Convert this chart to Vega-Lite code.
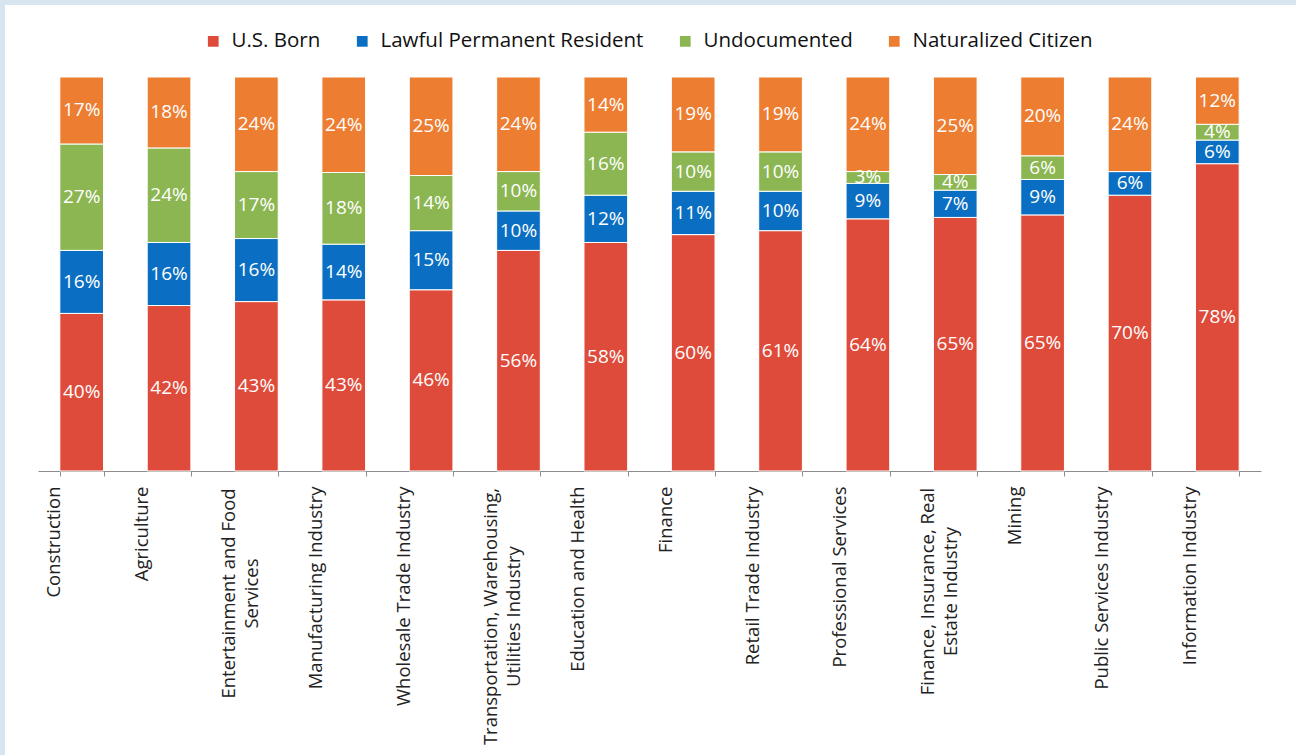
{
  "$schema": "https://vega.github.io/schema/vega-lite/v6.json",
  "width": 1291,
  "height": 750,
  "autosize": {"type": "none"},
  "padding": {"left": 5, "top": 5, "right": 0, "bottom": 0},
  "background": "#d6e5f0",
  "config": {
    "view": {"fill": "white", "stroke": null},
    "font": "Open Sans"
  },
  "data": {
    "values": [
      {"industry": "Construction", "group": "U.S. Born", "k": 1, "v": 0.40},
      {"industry": "Construction", "group": "Lawful Permanent Resident", "k": 2, "v": 0.16},
      {"industry": "Construction", "group": "Undocumented", "k": 3, "v": 0.27},
      {"industry": "Construction", "group": "Naturalized Citizen", "k": 4, "v": 0.17},
      {"industry": "Agriculture", "group": "U.S. Born", "k": 1, "v": 0.42},
      {"industry": "Agriculture", "group": "Lawful Permanent Resident", "k": 2, "v": 0.16},
      {"industry": "Agriculture", "group": "Undocumented", "k": 3, "v": 0.24},
      {"industry": "Agriculture", "group": "Naturalized Citizen", "k": 4, "v": 0.18},
      {"industry": "Entertainment and Food Services", "group": "U.S. Born", "k": 1, "v": 0.43},
      {"industry": "Entertainment and Food Services", "group": "Lawful Permanent Resident", "k": 2, "v": 0.16},
      {"industry": "Entertainment and Food Services", "group": "Undocumented", "k": 3, "v": 0.17},
      {"industry": "Entertainment and Food Services", "group": "Naturalized Citizen", "k": 4, "v": 0.24},
      {"industry": "Manufacturing Industry", "group": "U.S. Born", "k": 1, "v": 0.43},
      {"industry": "Manufacturing Industry", "group": "Lawful Permanent Resident", "k": 2, "v": 0.14},
      {"industry": "Manufacturing Industry", "group": "Undocumented", "k": 3, "v": 0.18},
      {"industry": "Manufacturing Industry", "group": "Naturalized Citizen", "k": 4, "v": 0.24},
      {"industry": "Wholesale Trade Industry", "group": "U.S. Born", "k": 1, "v": 0.46},
      {"industry": "Wholesale Trade Industry", "group": "Lawful Permanent Resident", "k": 2, "v": 0.15},
      {"industry": "Wholesale Trade Industry", "group": "Undocumented", "k": 3, "v": 0.14},
      {"industry": "Wholesale Trade Industry", "group": "Naturalized Citizen", "k": 4, "v": 0.25},
      {"industry": "Transportation, Warehousing, Utilities Industry", "group": "U.S. Born", "k": 1, "v": 0.56},
      {"industry": "Transportation, Warehousing, Utilities Industry", "group": "Lawful Permanent Resident", "k": 2, "v": 0.10},
      {"industry": "Transportation, Warehousing, Utilities Industry", "group": "Undocumented", "k": 3, "v": 0.10},
      {"industry": "Transportation, Warehousing, Utilities Industry", "group": "Naturalized Citizen", "k": 4, "v": 0.24},
      {"industry": "Education and Health", "group": "U.S. Born", "k": 1, "v": 0.58},
      {"industry": "Education and Health", "group": "Lawful Permanent Resident", "k": 2, "v": 0.12},
      {"industry": "Education and Health", "group": "Undocumented", "k": 3, "v": 0.16},
      {"industry": "Education and Health", "group": "Naturalized Citizen", "k": 4, "v": 0.14},
      {"industry": "Finance", "group": "U.S. Born", "k": 1, "v": 0.60},
      {"industry": "Finance", "group": "Lawful Permanent Resident", "k": 2, "v": 0.11},
      {"industry": "Finance", "group": "Undocumented", "k": 3, "v": 0.10},
      {"industry": "Finance", "group": "Naturalized Citizen", "k": 4, "v": 0.19},
      {"industry": "Retail Trade Industry", "group": "U.S. Born", "k": 1, "v": 0.61},
      {"industry": "Retail Trade Industry", "group": "Lawful Permanent Resident", "k": 2, "v": 0.10},
      {"industry": "Retail Trade Industry", "group": "Undocumented", "k": 3, "v": 0.10},
      {"industry": "Retail Trade Industry", "group": "Naturalized Citizen", "k": 4, "v": 0.19},
      {"industry": "Professional Services", "group": "U.S. Born", "k": 1, "v": 0.64},
      {"industry": "Professional Services", "group": "Lawful Permanent Resident", "k": 2, "v": 0.09},
      {"industry": "Professional Services", "group": "Undocumented", "k": 3, "v": 0.03},
      {"industry": "Professional Services", "group": "Naturalized Citizen", "k": 4, "v": 0.24},
      {"industry": "Finance, Insurance, Real Estate Industry", "group": "U.S. Born", "k": 1, "v": 0.65},
      {"industry": "Finance, Insurance, Real Estate Industry", "group": "Lawful Permanent Resident", "k": 2, "v": 0.07},
      {"industry": "Finance, Insurance, Real Estate Industry", "group": "Undocumented", "k": 3, "v": 0.04},
      {"industry": "Finance, Insurance, Real Estate Industry", "group": "Naturalized Citizen", "k": 4, "v": 0.25},
      {"industry": "Mining", "group": "U.S. Born", "k": 1, "v": 0.65},
      {"industry": "Mining", "group": "Lawful Permanent Resident", "k": 2, "v": 0.09},
      {"industry": "Mining", "group": "Undocumented", "k": 3, "v": 0.06},
      {"industry": "Mining", "group": "Naturalized Citizen", "k": 4, "v": 0.20},
      {"industry": "Public Services Industry", "group": "U.S. Born", "k": 1, "v": 0.70},
      {"industry": "Public Services Industry", "group": "Lawful Permanent Resident", "k": 2, "v": 0.06},
      {"industry": "Public Services Industry", "group": "Undocumented", "k": 3, "v": 0.0},
      {"industry": "Public Services Industry", "group": "Naturalized Citizen", "k": 4, "v": 0.24},
      {"industry": "Information Industry", "group": "U.S. Born", "k": 1, "v": 0.78},
      {"industry": "Information Industry", "group": "Lawful Permanent Resident", "k": 2, "v": 0.06},
      {"industry": "Information Industry", "group": "Undocumented", "k": 3, "v": 0.04},
      {"industry": "Information Industry", "group": "Naturalized Citizen", "k": 4, "v": 0.12}
    ]
  },
  "encoding": {
    "x": {
      "field": "industry",
      "type": "nominal",
      "sort": null,
      "scale": {"range": [33, 1256], "paddingInner": 0.5, "paddingOuter": 0.25},
      "axis": {
        "title": null,
        "offset": -284,
        "tickBand": "extent",
        "tickSize": 5,
        "tickColor": "#8c8c8c",
        "domainColor": "#8c8c8c",
        "labelAngle": -90,
        "labelAlign": {
          "condition": {"test": "indexof(['Entertainment and Food Services','Transportation, Warehousing, Utilities Industry','Finance, Insurance, Real Estate Industry'], datum.value) >= 0", "value": "center"},
          "value": "right"
        },
        "labelPadding": {
          "condition": [
            {"test": "datum.value == 'Entertainment and Food Services'", "value": 117},
            {"test": "datum.value == 'Transportation, Warehousing, Utilities Industry'", "value": 140},
            {"test": "datum.value == 'Finance, Insurance, Real Estate Industry'", "value": 115}
          ],
          "value": 10
        },
        "labelBaseline": "top",
        "labelOffset": -37,
        "labelFontSize": 18.5,
        "labelLineHeight": 23,
        "labelColor": "#222222",
        "labelLimit": 500,
        "labelOverlap": false,
        "labelExpr": "datum.label == 'Entertainment and Food Services' ? ['Entertainment and Food', 'Services'] : datum.label == 'Transportation, Warehousing, Utilities Industry' ? ['Transportation, Warehousing,', 'Utilities Industry'] : datum.label == 'Finance, Insurance, Real Estate Industry' ? ['Finance, Insurance, Real', 'Estate Industry'] : datum.label"
      }
    },
    "y": {
      "field": "v",
      "type": "quantitative",
      "stack": "normalize",
      "scale": {"range": [466, 72]},
      "axis": null
    },
    "order": {"field": "k", "type": "quantitative"}
  },
  "layer": [
    {
      "mark": {"type": "bar", "stroke": "white", "strokeWidth": 1},
      "encoding": {
        "color": {
          "field": "group",
          "type": "nominal",
          "scale": {
            "domain": ["U.S. Born", "Lawful Permanent Resident", "Undocumented", "Naturalized Citizen"],
            "range": ["#df4b3a", "#0a6fc2", "#8bb652", "#ed7d31"]
          },
          "legend": {
            "title": null,
            "orient": "none",
            "direction": "horizontal",
            "legendX": 198,
            "legendY": 26,
            "symbolType": "square",
            "symbolSize": 115,
            "symbolStrokeWidth": 0,
            "labelFontSize": 20.5,
            "labelColor": "#111111",
            "labelOffset": 8,
            "columnPadding": 31,
            "labelLimit": 400
          }
        }
      }
    },
    {
      "transform": [{"filter": "datum.v > 0"}],
      "mark": {"type": "text", "color": "white", "fontSize": 19},
      "encoding": {
        "y": {"field": "v", "type": "quantitative", "stack": "normalize", "bandPosition": 0.5},
        "detail": {"field": "group", "type": "nominal"},
        "text": {"field": "v", "type": "quantitative", "format": ".0%"}
      }
    }
  ]
}
